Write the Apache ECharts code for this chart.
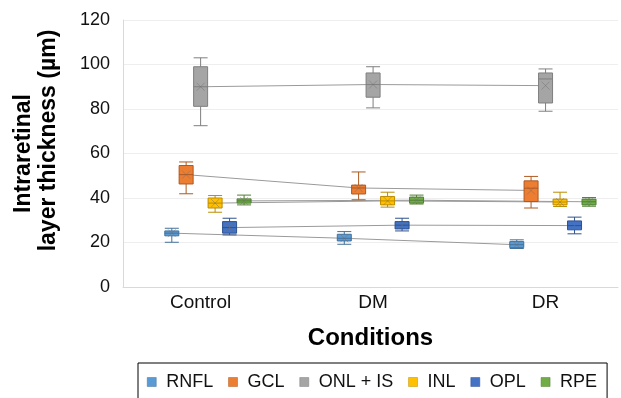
<!DOCTYPE html>
<html>
<head>
<meta charset="utf-8">
<script src="https://cdn.jsdelivr.net/npm/echarts@6/dist/echarts.min.js"></script>
<style>
  html, body { margin: 0; padding: 0; background: #fff; }
  #chart { width: 621px; height: 398px; }
</style>
</head>
<body>
<div id="chart"></div>
<script>
const chartDom = document.getElementById('chart');
const myChart = echarts.init(chartDom);

const categories = ['Control', 'DM', 'DR'];
const layers = ['RNFL', 'GCL', 'ONL + IS', 'INL', 'OPL', 'RPE'];
const fills = ['#5B9BD5', '#ED7D31', '#A5A5A5', '#FFC000', '#4472C4', '#70AD47'];
const borders = ['#41719C', '#AE5A21', '#7F7F7F', '#BC8C00', '#2F528F', '#507E32'];
// position of each layer's box inside a condition group (in category units)
const offsets = [-0.167, -0.084, 0, 0.084, 0.168, 0.252];

// [min, Q1, median, Q3, max] per layer, one array per condition
const controlBoxes = [
    [20.1, 23.0, 24.2, 25.2, 26.4],
    [41.9, 46.3, 50.5, 54.6, 56.2],
    [72.5, 81.2, 90.0, 99.0, 103.0],
    [33.6, 35.5, 37.7, 40.0, 41.1],
    [23.4, 24.2, 26.7, 29.4, 30.9],
    [36.9, 37.7, 38.7, 39.6, 41.3]
];
const dmBoxes = [
    [19.2, 20.7, 21.9, 23.7, 24.9],
    [39.2, 41.8, 44.5, 45.8, 51.7],
    [80.5, 85.3, 91.0, 96.2, 99.0],
    [35.9, 36.9, 38.7, 40.7, 42.6],
    [25.2, 26.1, 27.8, 29.4, 30.9],
    [37.3, 37.7, 39.0, 40.4, 41.3]
];
const drBoxes = [
    [17.3, 17.7, 19.0, 20.4, 21.2],
    [35.5, 38.4, 44.4, 47.7, 49.7],
    [79.0, 82.7, 93.5, 96.2, 98.0],
    [36.2, 36.9, 38.2, 39.5, 42.6],
    [23.9, 25.7, 27.6, 29.7, 31.4],
    [36.3, 36.9, 38.3, 39.5, 40.2]
];

// means per layer: [Control, DM, DR]
const rnflMeans = [24.2, 21.9, 19.0];
const gclMeans = [50.5, 44.5, 43.4];
const onlMeans = [90.0, 91.0, 90.5];
const inlMeans = [37.7, 38.7, 38.2];
const oplMeans = [26.7, 27.8, 27.6];
const rpeMeans = [38.7, 39.0, 38.3];

const yTicks = [0, 20, 40, 60, 80, 100, 120];

const allBoxes = [controlBoxes, dmBoxes, drBoxes];
const allMeans = [rnflMeans, gclMeans, onlMeans, inlMeans, oplMeans, rpeMeans];
const font = 'Liberation Sans, Arial, sans-serif';

const boxData = [];
allBoxes.forEach(function (group, ci) {
    group.forEach(function (b, li) {
        boxData.push({
            value: [ci + offsets[li]].concat(b),
            itemStyle: { color: fills[li], borderColor: borders[li] }
        });
    });
});

const series = [{
    name: 'boxes',
    type: 'boxplot',
    boxWidth: [14, 14],
    z: 3,
    itemStyle: { borderWidth: 1 },
    data: boxData
}];

layers.forEach(function (name, li) {
    const pts = allMeans[li].map(function (m, ci) { return [ci + offsets[li], m]; });
    series.push({
        name: name,
        type: 'line',
        z: 1,
        showSymbol: false,
        silent: true,
        itemStyle: { color: fills[li] },
        lineStyle: { color: '#9a9a9a', width: 1 },
        data: pts
    });
    series.push({
        name: name,
        type: 'scatter',
        z: 4,
        silent: true,
        symbol: 'path://M0,0L10,10M10,0L0,10',
        symbolSize: 8,
        itemStyle: { color: 'none', borderColor: 'rgba(110,110,110,0.55)', borderWidth: 1 },
        data: pts
    });
});

const titleStyle = { fontFamily: font, fontSize: 23, fontWeight: 'bold', color: '#000', lineHeight: 25 };

const option = {
    animation: false,
    grid: { left: 123, right: 0, top: 20, bottom: 111 },
    legend: {
        left: 138,
        top: 363,
        data: layers.map(function (name, li) {
            return { name: name, itemStyle: { color: fills[li], borderColor: borders[li], borderWidth: 0.5 } };
        }),
        icon: 'rect',
        itemWidth: 9,
        itemHeight: 9,
        itemGap: 15,
        padding: [10, 10, 14, 9],
        borderColor: '#000',
        borderWidth: 1,
        textStyle: { fontFamily: font, fontSize: 18, color: '#111', padding: [0, 0, 0, 5] }
    },
    xAxis: {
        type: 'value',
        min: -0.45,
        max: 2.42,
        interval: 0.05,
        name: 'Conditions',
        nameLocation: 'middle',
        nameGap: 39,
        nameTextStyle: { fontFamily: font, fontSize: 24, fontWeight: 'bold', color: '#000' },
        axisLine: { show: true, onZero: false, lineStyle: { color: '#d9d9d9' } },
        axisTick: { show: false },
        splitLine: { show: false },
        axisLabel: {
            margin: 6,
            fontFamily: font,
            fontSize: 19,
            color: '#111',
            formatter: function (v) {
                const r = Math.round(v);
                if (Math.abs(v - r) < 1e-6 && r >= 0 && r < categories.length) {
                    return categories[r];
                }
                return '';
            }
        }
    },
    yAxis: {
        type: 'value',
        min: yTicks[0],
        max: yTicks[yTicks.length - 1],
        interval: 20,
        name: '{a|Intraretinal}\n{b|layer thickness (µm)}',
        nameLocation: 'middle',
        nameRotate: 90,
        nameGap: 62,
        nameTextStyle: Object.assign({}, titleStyle, {
            rich: {
                a: titleStyle,
                b: Object.assign({}, titleStyle, { padding: [0, 0, 0, 26] })
            }
        }),
        axisLine: { show: true, onZero: false, lineStyle: { color: '#d9d9d9' } },
        axisTick: { show: false },
        splitLine: { lineStyle: { color: '#eeeeee' } },
        axisLabel: { margin: 13, fontFamily: font, fontSize: 18, color: '#111' }
    },
    series: series
};

myChart.setOption(option);
</script>
</body>
</html>
